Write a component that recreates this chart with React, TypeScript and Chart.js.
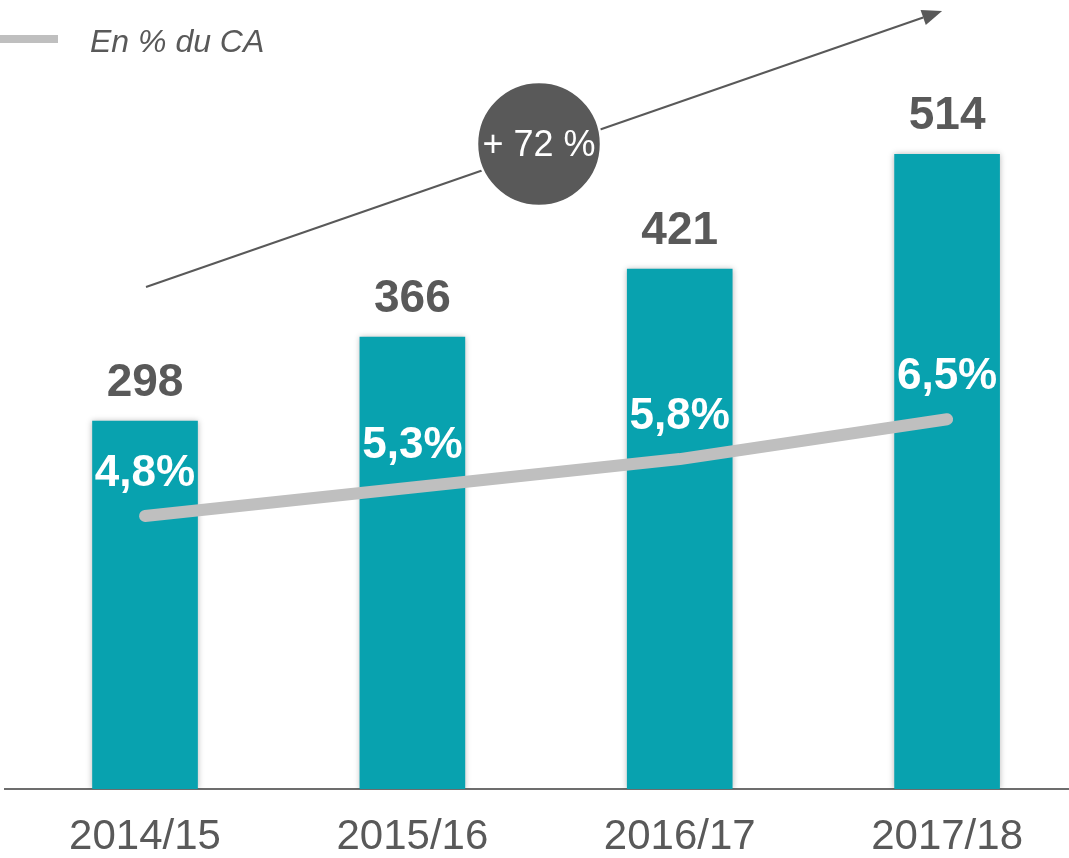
import React, { useEffect, useRef } from "react";
import { Chart, registerables } from "chart.js";

Chart.register(...registerables);

const categories = ["2014/15", "2015/16", "2016/17", "2017/18"];
const amounts = [298, 366, 421, 514];
const shares = [4.8, 5.3, 5.8, 6.5];
const shareLabels = ["4,8%", "5,3%", "5,8%", "6,5%"];
const legendText = "En % du CA";
const growthText = "+ 72 %";

const FONT = '"Liberation Sans", Arial, Helvetica, sans-serif';
const TEAL = "#08A2AF";
const DARK = "#595959";
const LINE_GRAY = "#BFBFBF";

export default function App() {
  const ref = useRef<HTMLCanvasElement | null>(null);

  useEffect(() => {
    if (!ref.current) return;

    const decor = {
      id: "decor",
      beforeDatasetDraw(chart: any, args: any) {
        if (args.index === 0) {
          const ctx = chart.ctx;
          ctx.save();
          ctx.shadowColor = "rgba(0,0,0,0.28)";
          ctx.shadowBlur = 6;
          ctx.shadowOffsetX = 0;
          ctx.shadowOffsetY = 0;
        }
      },
      afterDatasetDraw(chart: any, args: any) {
        if (args.index === 0) chart.ctx.restore();
      },
      afterDatasetsDraw(chart: any) {
        const ctx = chart.ctx;
        const xs = chart.scales.x;
        const ys = chart.scales.y;
        const y1 = chart.scales.y1;
        ctx.save();
        // amount labels above bars
        ctx.fillStyle = DARK;
        ctx.font = `bold 46px ${FONT}`;
        ctx.textAlign = "center";
        ctx.textBaseline = "middle";
        amounts.forEach((v, i) => {
          ctx.fillText(String(v), xs.getPixelForValue(i), ys.getPixelForValue(v) - 38);
        });
        // share labels above line points
        ctx.fillStyle = "#FFFFFF";
        ctx.font = `bold 44px ${FONT}`;
        shares.forEach((v, i) => {
          ctx.fillText(shareLabels[i], xs.getPixelForValue(i), y1.getPixelForValue(v) - 42);
        });

        // legend
        ctx.strokeStyle = LINE_GRAY;
        ctx.lineWidth = 8;
        ctx.lineCap = "butt";
        ctx.beginPath();
        ctx.moveTo(0, 39);
        ctx.lineTo(58, 39);
        ctx.stroke();
        ctx.fillStyle = DARK;
        ctx.font = `italic 32px ${FONT}`;
        ctx.textAlign = "left";
        ctx.textBaseline = "alphabetic";
        ctx.fillText(legendText, 90, 52);

        // growth arrow
        const sx = xs.getPixelForValue(0) + 1;
        const sy = 287;
        const ex = xs.getPixelForValue(3) - 5;
        const ey = 11;
        ctx.strokeStyle = DARK;
        ctx.fillStyle = DARK;
        ctx.lineWidth = 2;
        const ang = Math.atan2(ey - sy, ex - sx);
        const headLen = 20;
        const bx = ex - headLen * Math.cos(ang);
        const by = ey - headLen * Math.sin(ang);
        ctx.beginPath();
        ctx.moveTo(sx, sy);
        ctx.lineTo(bx, by);
        ctx.stroke();
        ctx.beginPath();
        ctx.moveTo(ex, ey);
        ctx.lineTo(bx + 8 * Math.sin(ang), by - 8 * Math.cos(ang));
        ctx.lineTo(bx - 8 * Math.sin(ang), by + 8 * Math.cos(ang));
        ctx.closePath();
        ctx.fill();

        // circle badge
        ctx.beginPath();
        ctx.arc(539, 144, 62, 0, Math.PI * 2);
        ctx.fillStyle = DARK;
        ctx.fill();
        ctx.lineWidth = 2.5;
        ctx.strokeStyle = "#FFFFFF";
        ctx.stroke();
        ctx.fillStyle = "#FFFFFF";
        ctx.font = `36px ${FONT}`;
        ctx.textAlign = "center";
        ctx.textBaseline = "middle";
        ctx.fillText(growthText, 539, 146);
        ctx.restore();
      },
    };

    const chart = new Chart(ref.current, {
      type: "bar",
      data: {
        datasets: [
          {
            type: "bar",
            data: amounts.map((v, i) => ({ x: i, y: v })),
            backgroundColor: TEAL,
            borderWidth: 0,
            barThickness: 105,
            yAxisID: "y",
            order: 1,
          } as any,
          {
            type: "line",
            data: shares.map((v, i) => ({ x: i, y: v })),
            borderColor: LINE_GRAY,
            borderWidth: 12,
            borderCapStyle: "round",
            borderJoinStyle: "round",
            pointRadius: 0,
            tension: 0,
            yAxisID: "y1",
            order: 0,
          } as any,
        ],
      },
      options: {
        animation: false,
        responsive: false,
        maintainAspectRatio: false,
        layout: { padding: { left: 5, right: 0, top: 0, bottom: 0 } },
        plugins: { legend: { display: false }, tooltip: { enabled: false } },
        scales: {
          x: {
            type: "linear",
            offset: false,
            bounds: "data",
            min: -0.5237,
            max: 3.456,
            afterBuildTicks(scale: any) {
              scale.ticks = categories.map((_, i) => ({ value: i }));
            },
            afterFit(scale: any) {
              scale.height = 69;
            },
            grid: { display: false, drawTicks: false },
            border: { display: true, color: "#6d6d6d", width: 2 },
            ticks: {
              autoSkip: false,
              maxRotation: 0,
              padding: 27,
              color: DARK,
              font: { family: FONT, size: 42, lineHeight: 1 },
              callback: (v: any) => categories[v as number] ?? "",
            },
          },
          y: { display: false, min: 0, max: 639 },
          y1: { display: false, min: 0, max: 13.87 },
        },
      } as any,
      plugins: [decor],
    });
    return () => chart.destroy();
  }, []);

  return (
    <div style={{ position: "absolute", left: 0, top: 0, width: 1069, height: 858, background: "#fff" }}>
      <canvas ref={ref} width={1069} height={858} style={{ width: 1069, height: 858, display: "block" }} />
    </div>
  );
}
